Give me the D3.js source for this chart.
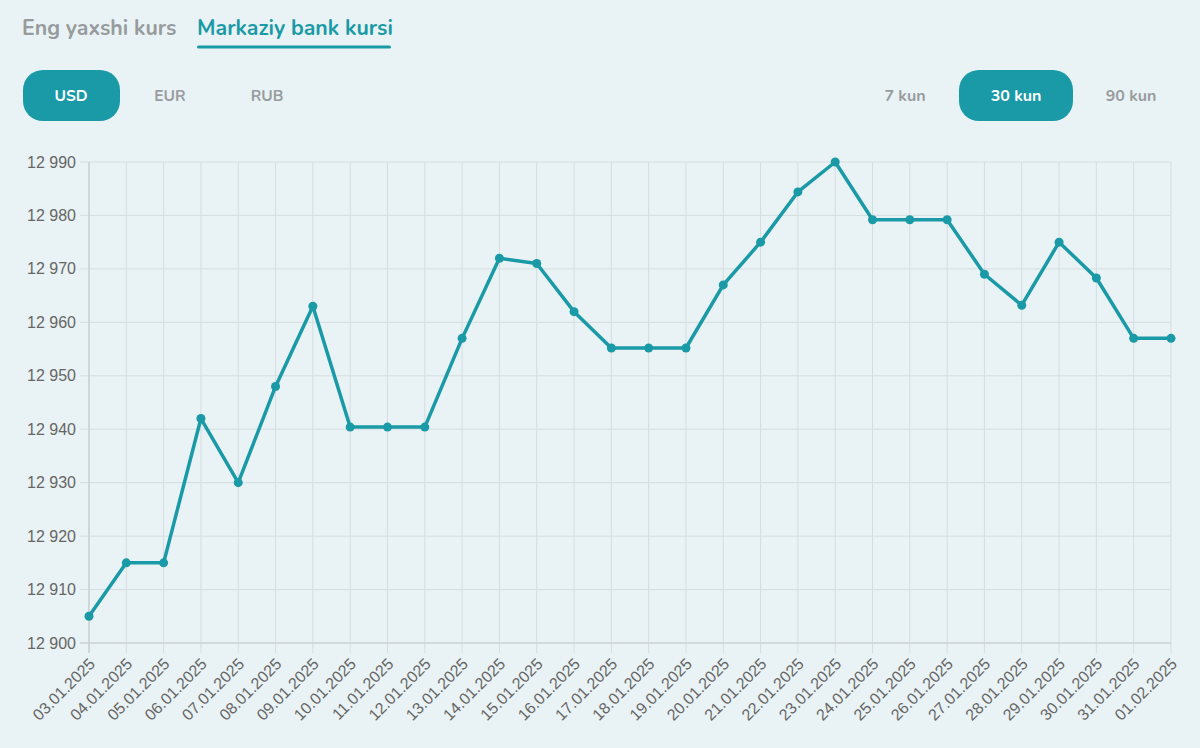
<!DOCTYPE html>
<html><head><meta charset="utf-8">
<script src="https://cdn.jsdelivr.net/npm/d3@7"></script>
<style>
html,body{margin:0;padding:0;background:#e9f2f4;}
svg{display:block;}
</style></head>
<body>
<svg id="chart" width="1200" height="748"></svg>
<script>
const dates = ["03.01.2025","04.01.2025","05.01.2025","06.01.2025","07.01.2025","08.01.2025","09.01.2025","10.01.2025","11.01.2025","12.01.2025","13.01.2025","14.01.2025","15.01.2025","16.01.2025","17.01.2025","18.01.2025","19.01.2025","20.01.2025","21.01.2025","22.01.2025","23.01.2025","24.01.2025","25.01.2025","26.01.2025","27.01.2025","28.01.2025","29.01.2025","30.01.2025","31.01.2025","01.02.2025"];
const rates = [12905,12915,12915,12942,12930,12948,12963,12940.4,12940.4,12940.4,12957,12972,12971,12962,12955.2,12955.2,12955.2,12967,12975,12984.4,12990,12979.2,12979.2,12979.2,12969,12963.2,12975,12968.3,12957,12957];
const yTicks = [12900,12910,12920,12930,12940,12950,12960,12970,12980,12990];
const tabs = ["Eng yaxshi kurs","Markaziy bank kursi"];
const currencies = ["USD","EUR","RUB"];
const periods = ["7 kun","30 kun","90 kun"];

const teal = "#1a9aa6";
const svg = d3.select("#chart");
const font = "'Nunito','Lato','Open Sans',sans-serif";

// Tabs
const tabX = [22,197];
tabs.forEach((t,i)=>{
  svg.append("text").attr("x",tabX[i]).attr("y",35).text(t)
    .attr("font-family",font).attr("font-weight",700).attr("font-size",21.3)
    .attr("fill", i===1?teal:"#979b9d");
});
svg.append("rect").attr("x",197).attr("y",45.5).attr("width",194).attr("height",3).attr("rx",1.5).attr("fill",teal);

// Currency buttons
const curX = [71,170,267];
currencies.forEach((c,i)=>{
  if(i===0) svg.append("rect").attr("x",23).attr("y",70).attr("width",97).attr("height",51).attr("rx",20).attr("fill",teal);
  svg.append("text").attr("x",curX[i]).attr("y",101).attr("text-anchor","middle").text(c)
    .attr("font-family",font).attr("font-weight",700).attr("font-size",15.5)
    .attr("fill", i===0?"#fff":"#989c9e");
});
const perX = [905,1016,1131];
periods.forEach((p,i)=>{
  if(i===1) svg.append("rect").attr("x",959).attr("y",70).attr("width",114).attr("height",51).attr("rx",20).attr("fill",teal);
  svg.append("text").attr("x",perX[i]).attr("y",101).attr("text-anchor","middle").text(p)
    .attr("font-family",font).attr("font-weight",700).attr("font-size",16)
    .attr("fill", i===1?"#fff":"#989c9e");
});

// Chart
const x = d3.scalePoint().domain(dates).range([89,1171]);
const y = d3.scaleLinear().domain([12900,12990]).range([643,162]);
const grid = "#d5dde0";

const g = svg.append("g");
g.selectAll("line.vg").data(dates).join("line")
  .attr("x1",d=>x(d)).attr("x2",d=>x(d)).attr("y1",162).attr("y2",653)
  .attr("stroke",grid).attr("stroke-width",1);
g.selectAll("line.hg").data(yTicks).join("line")
  .attr("x1",80).attr("x2",1171).attr("y1",d=>y(d)).attr("y2",d=>y(d))
  .attr("stroke",grid).attr("stroke-width",1);
g.append("line").attr("x1",89).attr("x2",89).attr("y1",162).attr("y2",653).attr("stroke","#c6ccd0").attr("stroke-width",1.2);
g.append("line").attr("x1",80).attr("x2",1171).attr("y1",643).attr("y2",643).attr("stroke","#c6ccd0").attr("stroke-width",1.2);

g.selectAll("text.yl").data(yTicks).join("text")
  .attr("x",76).attr("y",d=>y(d)).attr("dy","0.35em").attr("text-anchor","end")
  .attr("font-family","'Liberation Sans',Arial,sans-serif").attr("font-size",16).attr("fill","#666")
  .text(d=>d3.format(",")(d).replace(","," "));

g.selectAll("text.xl").data(dates).join("text")
  .attr("transform",d=>`translate(${x(d)+3},${661}) rotate(-45)`)
  .attr("text-anchor","end").attr("dy","0.35em")
  .attr("font-family","'Liberation Sans',Arial,sans-serif").attr("font-size",16).attr("fill","#666")
  .text(d=>d);

const line = d3.line().x((d,i)=>x(dates[i])).y(d=>y(d));
g.append("path").datum(rates).attr("d",line).attr("fill","none")
  .attr("stroke",teal).attr("stroke-width",3.5).attr("stroke-linejoin","round");
g.selectAll("circle").data(rates).join("circle")
  .attr("cx",(d,i)=>x(dates[i])).attr("cy",d=>y(d)).attr("r",4.5).attr("fill",teal);
</script>
</body></html>
